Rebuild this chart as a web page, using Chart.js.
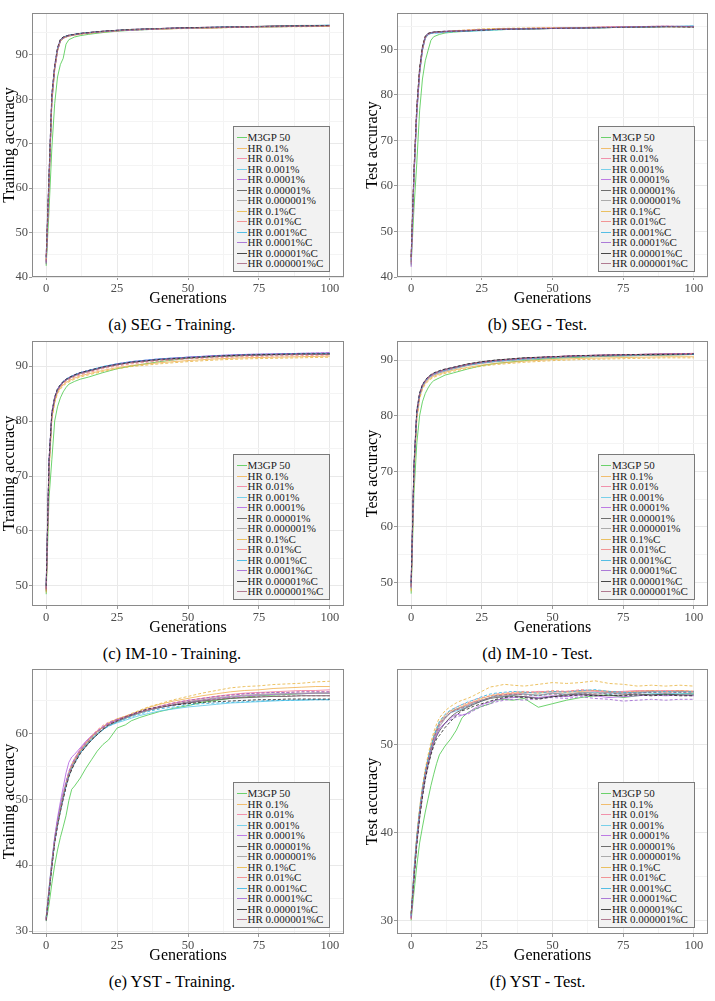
<!DOCTYPE html>
<html>
<head>
<meta charset="utf-8">
<script src="https://cdn.jsdelivr.net/npm/chart.js@4"></script>
<style>
  body { margin: 0; background: #fff; width: 715px; height: 1001px; position: relative; overflow: hidden; font-family: "Liberation Serif", serif; }
  canvas { position: absolute; }
  .cap { position: absolute; font-size: 16.5px; white-space: nowrap; transform: translate(-50%, -50%); color: #000; }
  .leg { position: absolute; width: 95px; height: 144px; background: #f2f2f2; border: 1px solid #7a7a7a; }
  .row { position: absolute; left: 0; height: 10.5px; line-height: 10.5px; font-size: 11px; white-space: nowrap; color: #1a1a1a; }
  .key { position: absolute; left: 2.5px; width: 10px; height: 1px; top: 5px; }
  .lab { position: absolute; left: 13.5px; top: 0; }
</style>
</head>
<body>
<script>
// -------------------- DATA --------------------

const seriesNames = ["M3GP 50", "HR 0.1%", "HR 0.01%", "HR 0.001%", "HR 0.0001%", "HR 0.00001%", "HR 0.000001%",
  "HR 0.1%C", "HR 0.01%C", "HR 0.001%C", "HR 0.0001%C", "HR 0.00001%C", "HR 0.000001%C"];

const gensFast = [0, 1, 2, 3, 4, 5, 6, 7, 8, 10, 12, 15, 20, 25, 30, 40, 50, 60, 70, 80, 90, 100];
const gensYst = [0, 1, 2, 3, 4, 5, 6, 7, 8, 9, 10, 12, 14, 16, 18, 20, 22, 25, 28, 30, 33, 36, 40, 45, 50, 55, 60, 65, 70, 75, 80, 85, 90, 95, 100];

const xTicks = [0, 25, 50, 75, 100];
const segTicks = [40, 50, 60, 70, 80, 90];
const imTicks = [50, 60, 70, 80, 90];
const ystTrainTicks = [30, 40, 50, 60];
const ystTestTicks = [30, 40, 50];

// (a) SEG - Training
const segTrain = [
  [42.5, 55.0, 69.0, 79.0, 85.0, 87.8, 89.2, 92.4, 93.4, 94.0, 94.3, 94.6, 95.0, 95.3, 95.5, 95.8, 96.0, 96.1, 96.2, 96.3, 96.4, 96.5],
  [43.8, 61.0, 79.5, 86.5, 90.8, 93.1, 93.7, 94.0, 94.2, 94.5, 94.7, 94.9, 95.2, 95.4, 95.6, 95.8, 96.0, 96.1, 96.2, 96.3, 96.4, 96.4],
  [44.2, 62.5, 80.5, 87.2, 91.3, 93.3, 93.8, 94.1, 94.3, 94.6, 94.8, 95.0, 95.2, 95.5, 95.6, 95.9, 96.1, 96.2, 96.3, 96.4, 96.5, 96.6],
  [43.5, 61.8, 80.0, 87.0, 91.0, 93.2, 93.8, 94.1, 94.3, 94.5, 94.7, 94.9, 95.2, 95.4, 95.6, 95.9, 96.0, 96.2, 96.3, 96.4, 96.5, 96.7],
  [44.5, 63.0, 81.0, 87.5, 91.5, 93.4, 93.9, 94.2, 94.4, 94.6, 94.8, 95.0, 95.3, 95.5, 95.7, 95.9, 96.1, 96.2, 96.3, 96.4, 96.5, 96.6],
  [43.0, 61.5, 80.2, 87.3, 91.2, 93.3, 93.9, 94.2, 94.4, 94.6, 94.8, 95.0, 95.3, 95.5, 95.7, 95.9, 96.1, 96.2, 96.3, 96.5, 96.6, 96.6],
  [42.8, 60.5, 79.0, 86.8, 90.9, 93.0, 93.7, 94.0, 94.2, 94.5, 94.7, 94.9, 95.2, 95.4, 95.6, 95.8, 96.0, 96.1, 96.2, 96.3, 96.4, 96.5],
  [44.0, 62.0, 79.8, 86.9, 91.0, 93.1, 93.6, 94.0, 94.2, 94.4, 94.6, 94.8, 95.1, 95.4, 95.6, 95.8, 95.9, 96.0, 96.2, 96.3, 96.3, 96.4],
  [43.6, 61.2, 80.3, 87.1, 91.1, 93.2, 93.8, 94.1, 94.3, 94.5, 94.7, 94.9, 95.2, 95.4, 95.6, 95.8, 96.0, 96.1, 96.3, 96.4, 96.5, 96.5],
  [44.3, 62.8, 80.8, 87.4, 91.4, 93.3, 93.9, 94.2, 94.4, 94.6, 94.8, 95.0, 95.2, 95.5, 95.6, 95.9, 96.0, 96.2, 96.3, 96.4, 96.5, 96.6],
  [43.2, 61.0, 79.6, 86.7, 90.9, 93.1, 93.7, 94.0, 94.3, 94.5, 94.7, 94.9, 95.2, 95.4, 95.5, 95.8, 96.0, 96.1, 96.2, 96.3, 96.4, 96.5],
  [44.6, 63.2, 81.2, 87.6, 91.6, 93.5, 94.0, 94.2, 94.4, 94.6, 94.8, 95.0, 95.3, 95.5, 95.7, 95.9, 96.1, 96.2, 96.3, 96.4, 96.5, 96.6],
  [43.4, 61.6, 80.1, 87.0, 91.1, 93.2, 93.8, 94.1, 94.3, 94.5, 94.7, 94.9, 95.2, 95.4, 95.6, 95.9, 96.0, 96.1, 96.3, 96.4, 96.4, 96.5],
];

// (b) SEG - Test
const segTest = [
  [42.5, 55.0, 65.0, 76.5, 83.5, 87.5, 89.8, 92.0, 92.8, 93.3, 93.6, 93.8, 94.0, 94.2, 94.3, 94.5, 94.6, 94.7, 94.8, 94.9, 95.0, 95.0],
  [43.5, 62.5, 76.0, 85.0, 90.0, 92.5, 93.3, 93.6, 93.7, 93.8, 93.9, 94.0, 94.2, 94.4, 94.5, 94.6, 94.7, 94.8, 94.9, 95.0, 95.1, 95.0],
  [44.0, 63.5, 77.0, 85.5, 90.3, 92.7, 93.4, 93.6, 93.7, 93.8, 93.9, 94.0, 94.1, 94.3, 94.4, 94.6, 94.6, 94.7, 94.9, 95.0, 95.0, 95.1],
  [43.2, 62.0, 75.5, 84.5, 89.7, 92.4, 93.2, 93.5, 93.6, 93.6, 93.8, 93.9, 94.0, 94.1, 94.3, 94.5, 94.6, 94.7, 94.8, 94.9, 95.0, 95.2],
  [42.2, 61.5, 76.5, 85.2, 90.2, 92.8, 93.5, 93.7, 93.8, 93.9, 94.0, 94.1, 94.2, 94.3, 94.4, 94.6, 94.7, 94.8, 94.9, 95.0, 95.1, 95.0],
  [44.5, 63.0, 77.2, 85.8, 90.5, 92.9, 93.5, 93.7, 93.8, 93.9, 93.9, 94.0, 94.1, 94.3, 94.4, 94.5, 94.6, 94.7, 94.8, 94.9, 95.0, 95.0],
  [43.8, 62.2, 76.2, 85.0, 90.0, 92.6, 93.3, 93.6, 93.7, 93.8, 93.9, 94.0, 94.1, 94.3, 94.4, 94.5, 94.6, 94.7, 94.8, 94.9, 95.0, 94.9],
  [43.0, 61.8, 75.8, 84.8, 89.9, 92.5, 93.3, 93.6, 93.7, 93.8, 93.9, 94.1, 94.3, 94.5, 94.6, 94.7, 94.8, 94.8, 94.9, 95.0, 95.0, 95.0],
  [44.2, 63.2, 76.8, 85.4, 90.4, 92.8, 93.4, 93.6, 93.7, 93.8, 93.9, 94.0, 94.2, 94.3, 94.4, 94.6, 94.7, 94.8, 94.9, 95.0, 95.0, 95.0],
  [43.6, 62.6, 76.4, 85.1, 90.1, 92.6, 93.3, 93.5, 93.6, 93.7, 93.8, 93.9, 94.0, 94.2, 94.3, 94.5, 94.6, 94.7, 94.8, 94.9, 95.0, 95.1],
  [42.8, 61.9, 76.0, 84.9, 89.9, 92.5, 93.4, 93.6, 93.7, 93.8, 93.9, 94.0, 94.1, 94.3, 94.4, 94.5, 94.6, 94.7, 94.9, 95.0, 95.1, 95.0],
  [44.4, 63.4, 77.4, 85.9, 90.6, 92.9, 93.5, 93.7, 93.8, 93.9, 94.0, 94.0, 94.1, 94.2, 94.4, 94.5, 94.6, 94.7, 94.8, 94.9, 95.0, 94.9],
  [43.3, 62.3, 76.3, 85.0, 90.0, 92.6, 93.3, 93.6, 93.7, 93.8, 93.9, 94.0, 94.1, 94.3, 94.4, 94.5, 94.6, 94.7, 94.8, 94.9, 95.0, 95.0],
];

// (c) IM-10 - Training
const imTrain = [
  [48.5, 66.0, 73.0, 80.0, 82.6, 84.2, 85.3, 86.1, 86.7, 87.2, 87.6, 88.0, 88.8, 89.5, 90.0, 90.8, 91.4, 91.7, 91.9, 92.1, 92.2, 92.3],
  [49.2, 71.0, 80.5, 83.5, 85.2, 86.0, 86.6, 87.0, 87.3, 87.8, 88.2, 88.6, 89.2, 89.7, 90.1, 90.6, 91.0, 91.3, 91.5, 91.6, 91.7, 91.8],
  [49.8, 72.5, 81.2, 84.2, 85.7, 86.5, 87.1, 87.5, 87.8, 88.3, 88.7, 89.1, 89.8, 90.3, 90.7, 91.2, 91.6, 91.8, 92.0, 92.1, 92.2, 92.2],
  [50.0, 72.0, 81.0, 84.0, 85.6, 86.4, 87.1, 87.5, 87.9, 88.4, 88.8, 89.2, 89.9, 90.4, 90.8, 91.3, 91.6, 91.8, 92.0, 92.1, 92.2, 92.3],
  [49.5, 72.8, 81.5, 84.3, 85.8, 86.6, 87.2, 87.6, 87.9, 88.4, 88.8, 89.2, 89.8, 90.4, 90.8, 91.3, 91.6, 91.9, 92.1, 92.2, 92.3, 92.4],
  [49.0, 72.2, 81.3, 84.1, 85.6, 86.4, 87.0, 87.4, 87.8, 88.3, 88.7, 89.1, 89.8, 90.3, 90.7, 91.2, 91.5, 91.8, 92.0, 92.1, 92.2, 92.2],
  [49.6, 71.8, 81.0, 84.0, 85.5, 86.3, 87.0, 87.4, 87.7, 88.2, 88.6, 89.0, 89.7, 90.2, 90.6, 91.1, 91.5, 91.7, 91.9, 92.0, 92.1, 92.2],
  [48.8, 70.5, 80.2, 83.3, 85.0, 85.8, 86.4, 86.8, 87.1, 87.6, 88.0, 88.4, 89.0, 89.5, 89.9, 90.4, 90.8, 91.1, 91.3, 91.4, 91.5, 91.6],
  [49.3, 71.5, 80.8, 83.8, 85.4, 86.2, 86.8, 87.2, 87.5, 88.0, 88.4, 88.8, 89.5, 90.0, 90.4, 90.9, 91.3, 91.5, 91.7, 91.8, 91.9, 92.0],
  [50.2, 72.6, 81.4, 84.3, 85.8, 86.6, 87.2, 87.6, 87.9, 88.4, 88.8, 89.2, 89.9, 90.4, 90.8, 91.3, 91.6, 91.9, 92.1, 92.2, 92.3, 92.3],
  [49.7, 72.4, 81.3, 84.2, 85.7, 86.5, 87.1, 87.5, 87.8, 88.3, 88.7, 89.1, 89.8, 90.3, 90.7, 91.2, 91.6, 91.9, 92.1, 92.2, 92.3, 92.4],
  [50.0, 73.0, 81.6, 84.4, 85.9, 86.6, 87.2, 87.6, 87.9, 88.4, 88.8, 89.2, 89.8, 90.3, 90.7, 91.2, 91.5, 91.8, 92.0, 92.1, 92.2, 92.2],
  [49.4, 72.0, 81.1, 84.1, 85.6, 86.4, 87.0, 87.4, 87.7, 88.2, 88.6, 89.0, 89.7, 90.2, 90.6, 91.1, 91.4, 91.7, 91.9, 92.0, 92.1, 92.1],
];

// (d) IM-10 - Test
const imTest = [
  [48.0, 66.0, 75.0, 80.0, 82.5, 84.0, 85.0, 85.8, 86.3, 86.8, 87.3, 87.7, 88.4, 89.0, 89.4, 89.9, 90.3, 90.5, 90.7, 90.8, 90.9, 91.0],
  [48.6, 69.5, 79.5, 83.2, 85.0, 85.8, 86.4, 86.8, 87.1, 87.5, 87.8, 88.2, 88.7, 89.1, 89.4, 89.8, 90.1, 90.3, 90.4, 90.5, 90.6, 90.6],
  [49.5, 70.5, 80.5, 83.8, 85.4, 86.2, 86.8, 87.2, 87.5, 87.9, 88.2, 88.6, 89.2, 89.6, 89.9, 90.3, 90.6, 90.8, 90.9, 91.0, 91.1, 91.2],
  [49.0, 70.2, 80.2, 83.6, 85.3, 86.1, 86.7, 87.1, 87.4, 87.8, 88.1, 88.5, 89.1, 89.5, 89.8, 90.2, 90.5, 90.7, 90.8, 90.9, 91.0, 91.0],
  [50.0, 71.0, 80.8, 84.0, 85.5, 86.3, 86.9, 87.3, 87.6, 88.0, 88.3, 88.7, 89.2, 89.6, 89.9, 90.3, 90.6, 90.8, 90.9, 91.0, 91.1, 91.1],
  [49.2, 70.8, 80.6, 83.9, 85.5, 86.3, 86.9, 87.3, 87.6, 88.0, 88.3, 88.7, 89.3, 89.7, 90.0, 90.4, 90.6, 90.8, 90.9, 91.0, 91.1, 91.1],
  [48.8, 70.0, 80.0, 83.5, 85.2, 86.0, 86.6, 87.0, 87.3, 87.7, 88.0, 88.4, 89.0, 89.4, 89.7, 90.1, 90.4, 90.6, 90.7, 90.8, 90.9, 91.0],
  [48.4, 69.2, 79.2, 83.0, 84.8, 85.6, 86.2, 86.6, 86.9, 87.3, 87.6, 88.0, 88.5, 88.9, 89.2, 89.6, 89.9, 90.1, 90.2, 90.3, 90.4, 90.4],
  [49.3, 70.3, 80.3, 83.7, 85.3, 86.1, 86.7, 87.1, 87.4, 87.9, 88.2, 88.6, 89.2, 89.6, 89.9, 90.3, 90.6, 90.8, 90.9, 91.0, 91.1, 91.2],
  [49.8, 70.6, 80.5, 83.8, 85.4, 86.2, 86.8, 87.2, 87.5, 87.9, 88.2, 88.6, 89.1, 89.5, 89.8, 90.2, 90.5, 90.7, 90.8, 90.9, 91.0, 91.0],
  [49.1, 70.4, 80.4, 83.7, 85.4, 86.2, 86.8, 87.2, 87.5, 87.9, 88.2, 88.6, 89.2, 89.6, 89.9, 90.3, 90.6, 90.8, 90.9, 91.0, 91.1, 91.2],
  [50.0, 71.2, 81.0, 84.1, 85.6, 86.4, 87.0, 87.4, 87.7, 88.1, 88.4, 88.7, 89.3, 89.7, 90.0, 90.4, 90.6, 90.8, 90.9, 91.0, 91.0, 91.1],
  [49.4, 70.7, 80.6, 83.9, 85.5, 86.3, 86.9, 87.3, 87.6, 88.0, 88.3, 88.6, 89.2, 89.6, 89.9, 90.3, 90.5, 90.7, 90.8, 90.9, 91.0, 91.0],
];

// (e) YST - Training
const ystTrain = [
  [31.5, 34.0, 37.2, 40.0, 42.3, 44.2, 45.8, 47.5, 49.8, 51.5, 52.0, 53.2, 54.7, 56.0, 57.3, 58.3, 59.0, 60.8, 61.3, 61.9, 62.4, 62.8, 63.3, 63.8, 64.2, 64.7, 65.0, 65.3, 65.5, 65.7, 65.8, 65.9, 66.0, 66.1, 66.1],
  [32.0, 36.0, 40.0, 43.8, 46.3, 48.4, 50.4, 52.3, 53.8, 55.0, 55.8, 57.3, 58.4, 59.4, 60.2, 60.9, 61.5, 62.1, 62.6, 62.9, 63.4, 63.9, 64.4, 64.9, 65.3, 65.7, 66.0, 66.3, 66.5, 66.6, 66.8, 66.9, 67.0, 67.1, 67.1],
  [31.8, 36.3, 40.4, 44.0, 46.6, 48.8, 50.8, 52.6, 54.2, 55.3, 56.2, 57.6, 58.7, 59.6, 60.4, 61.0, 61.5, 62.0, 62.4, 62.7, 63.2, 63.6, 64.1, 64.6, 65.0, 65.3, 65.6, 65.9, 66.1, 66.2, 66.3, 66.4, 66.5, 66.5, 66.6],
  [32.1, 36.5, 40.6, 44.2, 46.8, 48.9, 50.7, 52.4, 53.9, 55.0, 55.8, 57.2, 58.3, 59.2, 60.0, 60.6, 61.1, 61.6, 62.0, 62.3, 62.7, 63.0, 63.4, 63.7, 64.0, 64.2, 64.4, 64.6, 64.7, 64.8, 64.9, 65.0, 65.0, 65.1, 65.1],
  [31.6, 36.2, 40.5, 44.3, 47.2, 49.6, 51.8, 54.0, 55.6, 56.4, 56.8, 57.8, 58.8, 59.6, 60.3, 60.9, 61.4, 62.0, 62.5, 62.8, 63.2, 63.5, 63.9, 64.3, 64.7, 65.0, 65.3, 65.5, 65.7, 65.8, 65.9, 66.0, 66.0, 66.1, 66.1],
  [31.9, 35.8, 39.8, 43.5, 46.0, 48.2, 50.2, 52.0, 53.5, 54.6, 55.5, 57.0, 58.0, 59.0, 59.8, 60.6, 61.2, 61.8, 62.3, 62.7, 63.1, 63.5, 63.9, 64.3, 64.6, 64.9, 65.1, 65.3, 65.4, 65.5, 65.6, 65.6, 65.7, 65.7, 65.7],
  [31.7, 36.0, 40.2, 43.7, 46.2, 48.5, 50.5, 52.2, 53.7, 54.8, 55.6, 57.1, 58.2, 59.1, 59.9, 60.6, 61.2, 61.8, 62.3, 62.6, 63.1, 63.5, 63.9, 64.4, 64.8, 65.1, 65.4, 65.6, 65.8, 65.9, 66.0, 66.0, 66.1, 66.1, 66.1],
  [32.2, 36.4, 40.3, 43.9, 46.4, 48.6, 50.6, 52.4, 53.9, 55.1, 56.0, 57.4, 58.5, 59.5, 60.3, 61.0, 61.6, 62.2, 62.6, 63.0, 63.5, 64.0, 64.5, 65.1, 65.6, 66.1, 66.5, 66.9, 67.1, 67.2, 67.4, 67.5, 67.6, 67.8, 67.9],
  [31.9, 36.1, 40.1, 43.8, 46.5, 48.7, 50.6, 52.3, 53.8, 54.9, 55.9, 57.4, 58.6, 59.6, 60.5, 61.2, 61.7, 62.2, 62.6, 62.9, 63.3, 63.7, 64.1, 64.6, 65.0, 65.3, 65.6, 65.8, 66.0, 66.1, 66.2, 66.2, 66.3, 66.3, 66.3],
  [32.0, 36.0, 40.0, 43.6, 46.1, 48.3, 50.3, 52.1, 53.6, 54.7, 55.5, 57.0, 58.1, 59.0, 59.8, 60.5, 61.1, 61.7, 62.2, 62.5, 62.9, 63.3, 63.7, 64.0, 64.3, 64.5, 64.6, 64.7, 64.8, 64.9, 65.0, 65.0, 65.1, 65.1, 65.1],
  [31.8, 36.2, 40.3, 43.9, 46.6, 48.9, 50.9, 52.7, 54.2, 55.3, 56.1, 57.5, 58.6, 59.5, 60.3, 61.0, 61.6, 62.1, 62.5, 62.9, 63.3, 63.7, 64.1, 64.6, 65.0, 65.3, 65.6, 65.8, 66.0, 66.1, 66.2, 66.2, 66.3, 66.3, 66.3],
  [31.6, 35.7, 39.7, 43.4, 46.0, 48.1, 50.0, 51.8, 53.4, 54.5, 55.4, 56.9, 58.0, 59.0, 59.8, 60.6, 61.3, 61.9, 62.5, 62.8, 63.3, 63.7, 64.0, 64.3, 64.5, 64.7, 64.8, 64.9, 65.0, 65.1, 65.1, 65.2, 65.2, 65.2, 65.2],
  [31.7, 35.9, 39.9, 43.6, 46.2, 48.4, 50.4, 52.2, 53.7, 54.8, 55.7, 57.2, 58.3, 59.3, 60.1, 60.8, 61.4, 62.0, 62.5, 62.8, 63.2, 63.6, 64.0, 64.4, 64.8, 65.0, 65.2, 65.4, 65.5, 65.6, 65.6, 65.7, 65.7, 65.7, 65.7],
];

// (f) YST - Test
const ystTest = [
  [30.0, 33.2, 36.2, 38.8, 40.6, 42.3, 43.8, 45.3, 46.6, 47.8, 48.8, 49.8, 50.6, 51.6, 53.0, 53.6, 53.9, 54.3, 54.6, 55.0, 55.1, 55.0, 55.2, 54.2, 54.6, 55.0, 55.3, 55.5, 55.6, 55.3, 55.5, 55.7, 55.6, 55.7, 55.8],
  [30.8, 35.5, 39.5, 42.5, 45.0, 47.0, 48.5, 49.8, 51.0, 51.8, 52.5, 53.3, 53.8, 54.0, 54.3, 54.6, 54.8, 55.2, 55.5, 55.6, 55.7, 55.8, 55.9, 55.8, 56.0, 55.9, 56.0, 56.1, 56.0, 55.9, 56.0, 56.1, 56.0, 56.1, 56.0],
  [30.2, 35.0, 39.2, 42.3, 44.8, 46.7, 48.2, 49.5, 50.6, 51.5, 52.3, 53.0, 53.6, 53.9, 54.2, 54.5, 54.8, 55.0, 55.3, 55.5, 55.6, 55.7, 55.8, 56.0, 55.9, 56.0, 56.1, 56.0, 55.9, 56.0, 56.1, 56.0, 56.1, 56.0, 56.0],
  [30.5, 35.8, 39.6, 42.6, 45.0, 46.8, 48.3, 49.6, 50.8, 51.6, 52.4, 53.1, 53.6, 53.8, 54.0, 54.3, 54.6, 54.9, 55.3, 55.5, 55.4, 55.6, 55.7, 55.5, 55.8, 55.6, 55.8, 55.9, 55.7, 55.8, 55.9, 55.8, 55.7, 55.8, 55.7],
  [30.3, 35.2, 39.0, 42.0, 44.5, 46.4, 47.9, 49.2, 50.3, 51.1, 51.8, 52.4, 53.0, 53.4, 53.3, 53.5, 54.0, 54.5, 54.8, 55.0, 55.2, 55.3, 55.4, 55.3, 55.5, 55.4, 55.6, 55.5, 55.3, 55.4, 55.5, 55.6, 55.5, 55.6, 55.5],
  [30.6, 34.8, 38.8, 41.8, 44.2, 46.2, 47.7, 49.0, 50.1, 50.9, 51.5, 52.4, 53.1, 53.6, 53.9, 54.2, 54.5, 54.9, 55.2, 55.3, 55.4, 55.5, 55.4, 55.2, 55.4, 55.6, 55.7, 55.6, 55.5, 55.6, 55.7, 55.6, 55.7, 55.6, 55.6],
  [30.4, 35.1, 39.1, 42.2, 44.6, 46.5, 48.0, 49.3, 50.5, 51.3, 52.0, 52.9, 53.6, 54.0, 54.2, 54.4, 54.7, 55.0, 55.3, 55.4, 55.5, 55.6, 55.7, 55.6, 55.8, 55.7, 55.9, 55.8, 55.9, 55.8, 55.9, 56.0, 55.9, 56.0, 55.9],
  [30.7, 35.6, 39.7, 42.8, 45.3, 47.2, 48.8, 50.2, 51.4, 52.3, 53.0, 53.8, 54.3, 54.7, 55.0, 55.2, 55.5, 56.0, 56.5, 56.6, 56.8, 56.7, 56.6, 56.8, 57.0, 56.9, 57.0, 57.2, 56.9, 56.8, 56.6, 56.7, 56.6, 56.7, 56.6],
  [30.1, 34.9, 39.0, 42.1, 44.7, 46.6, 48.1, 49.4, 50.7, 51.6, 52.4, 53.2, 53.8, 54.2, 54.5, 54.7, 55.0, 55.3, 55.5, 55.7, 55.8, 55.9, 56.0, 55.9, 56.1, 56.0, 56.2, 56.1, 56.0, 55.9, 56.0, 56.1, 56.0, 56.1, 56.0],
  [30.5, 35.4, 39.4, 42.4, 44.9, 46.9, 48.4, 49.7, 50.9, 51.8, 52.6, 53.4, 53.9, 54.2, 54.5, 54.8, 55.0, 55.4, 55.7, 55.8, 55.9, 56.0, 55.9, 55.8, 56.0, 55.9, 56.1, 56.2, 56.0, 55.9, 55.8, 55.9, 56.0, 55.9, 56.0],
  [30.3, 35.0, 38.9, 41.9, 44.4, 46.3, 47.8, 49.1, 50.2, 51.0, 51.7, 52.4, 52.8, 53.1, 53.3, 53.4, 53.8, 54.3, 54.6, 54.8, 55.0, 55.1, 55.0, 55.2, 55.3, 55.2, 55.4, 55.2, 55.1, 54.9, 55.0, 55.1, 55.0, 55.1, 55.1],
  [30.8, 34.6, 38.6, 41.6, 44.0, 46.0, 47.5, 48.8, 49.8, 50.6, 51.0, 51.9, 52.6, 53.3, 53.8, 54.0, 54.3, 54.6, 54.9, 55.1, 55.3, 55.4, 55.3, 55.1, 55.4, 55.5, 55.6, 55.5, 55.6, 55.5, 55.6, 55.5, 55.6, 55.5, 55.5],
  [30.2, 35.3, 39.3, 42.3, 44.8, 46.7, 48.2, 49.5, 50.7, 51.5, 52.2, 53.0, 53.6, 53.9, 54.1, 54.3, 54.6, 55.0, 55.3, 55.5, 55.6, 55.7, 55.6, 55.5, 55.7, 55.6, 55.8, 55.7, 55.8, 55.7, 55.8, 55.9, 55.8, 55.9, 55.8],
];

// -------------------- STYLE --------------------

const lineColors = ["#4cc94cd0", "#f0b050d0", "#f07a9ad0", "#5cc8e8d0", "#b060e0d0", "#505050d0", "#9a9a9ad0",
  "#e8b440d0", "#f08080d0", "#30b0e0d0", "#9b5fd0d0", "#202020d0", "#a0607ad0"];
const FONT = "'Liberation Serif', serif";

// one entry per subplot: what it shows and which cell of the grid it sits in
const panels = [
  { series: segTrain, gens: gensFast, yTicks: segTicks, yMin: 40, yMax: 99.4, yTitle: "Training accuracy", caption: "(a) SEG - Training.", col: 0, row: 0 },
  { series: segTest, gens: gensFast, yTicks: segTicks, yMin: 40, yMax: 98.0, yTitle: "Test accuracy", caption: "(b) SEG - Test.", col: 1, row: 0 },
  { series: imTrain, gens: gensFast, yTicks: imTicks, yMin: 46.36, yMax: 94.55, yTitle: "Training accuracy", caption: "(c) IM-10 - Training.", col: 0, row: 1 },
  { series: imTest, gens: gensFast, yTicks: imTicks, yMin: 45.78, yMax: 93.43, yTitle: "Test accuracy", caption: "(d) IM-10 - Test.", col: 1, row: 1 },
  { series: ystTrain, gens: gensYst, yTicks: ystTrainTicks, yMin: 29.55, yMax: 69.76, yTitle: "Training accuracy", caption: "(e) YST - Training.", col: 0, row: 2 },
  { series: ystTest, gens: gensYst, yTicks: ystTestTicks, yMin: 28.46, yMax: 58.54, yTitle: "Test accuracy", caption: "(f) YST - Test.", col: 1, row: 2 },
];

const colLeft = [0, 363];        // canvas left
const yAxisWidth = [32, 34];
const padRight = [8, 7];
const rowTop = [0, 328, 656];    // canvas top
const rowHeight = [310, 311, 311];
const captionX = [172, 537.5];
const captionY = [325, 654, 982];
const legendX = [233, 597.5];
const legendY = [126, 454, 782];

// major ticks plus ggplot-like minor breaks halfway between them
function ticksWithMinor(major, min, max) {
  const step = major[1] - major[0];
  const out = [];
  major.forEach((m, i) => {
    if (i === 0 && m - step / 2 >= min) out.push({ value: m - step / 2, minor: true });
    out.push({ value: m, minor: false });
    if (m + step / 2 <= max) out.push({ value: m + step / 2, minor: true });
  });
  return out;
}

const isMinor = (c) => c.tick && c.tick.minor;

// panel border drawn over the lines
const boxPlugin = {
  id: "box",
  afterDraw(chart) {
    const { ctx, chartArea: a } = chart;
    ctx.save();
    ctx.strokeStyle = "#8a8a8a";
    ctx.lineWidth = 1;
    ctx.strokeRect(Math.round(a.left) + 0.5, Math.round(a.top) + 0.5, Math.round(a.right - a.left) - 1, Math.round(a.bottom - a.top) - 1);
    ctx.restore();
  },
};

function makePanel(p) {
  const cv = document.createElement("canvas");
  const h = rowHeight[p.row];
  cv.width = 352;
  cv.height = h;
  cv.style.left = colLeft[p.col] + "px";
  cv.style.top = rowTop[p.row] + "px";
  cv.style.width = "352px";
  cv.style.height = h + "px";
  document.body.appendChild(cv);

  const datasets = p.series.map((vals, i) => ({
    label: seriesNames[i],
    data: vals.map((v, k) => ({ x: p.gens[k], y: v })),
    borderColor: lineColors[i],
    borderWidth: 1,
    borderDash: i >= 7 ? [3, 2] : [], // the "C" runs are dashed
    pointRadius: 0,
    fill: false,
    tension: 0,
    order: 12 - i, // later series drawn on top, like ggplot
  }));

  const grid = {
    color: (c) => (isMinor(c) ? "#f4f4f4" : "#e9e9e9"),
    tickLength: 3,
    tickColor: (c) => (isMinor(c) ? "rgba(0,0,0,0)" : "#9a9a9a"),
  };
  const tickOpts = {
    autoSkip: false,
    maxRotation: 0,
    padding: 1,
    color: "#4d4d4d",
    font: { family: FONT, size: 12.5 },
    callback: (v, i, t) => (t[i].minor ? "" : String(v)),
  };

  new Chart(cv, {
    type: "line",
    data: { datasets },
    options: {
      responsive: false,
      animation: false,
      devicePixelRatio: 1,
      layout: { padding: { left: 0, top: 13, right: padRight[p.col], bottom: 0 } },
      plugins: { legend: { display: false }, tooltip: { enabled: false } },
      scales: {
        x: {
          type: "linear",
          min: -5,
          max: 105,
          afterBuildTicks: (ax) => { ax.ticks = ticksWithMinor(xTicks, -5, 105); },
          afterFit: (ax) => { ax.height = 33; },
          ticks: tickOpts,
          grid: grid,
          border: { display: false },
          title: { display: true, text: "Generations", color: "#000", font: { family: FONT, size: 16 }, padding: { top: 0, bottom: 2 } },
        },
        y: {
          min: p.yMin,
          max: p.yMax,
          afterBuildTicks: (ax) => { ax.ticks = ticksWithMinor(p.yTicks, p.yMin, p.yMax); },
          afterFit: (ax) => { ax.width = yAxisWidth[p.col]; },
          ticks: tickOpts,
          grid: grid,
          border: { display: false },
          title: { display: true, text: p.yTitle, color: "#000", font: { family: FONT, size: 16 }, padding: { top: 0, bottom: 0 } },
        },
      },
    },
    plugins: [boxPlugin],
  });

  // caption under the subplot
  const cap = document.createElement("div");
  cap.className = "cap";
  cap.style.left = captionX[p.col] + "px";
  cap.style.top = captionY[p.row] + "px";
  cap.textContent = p.caption;
  document.body.appendChild(cap);

  // legend box inside the panel
  const leg = document.createElement("div");
  leg.className = "leg";
  leg.style.left = legendX[p.col] + "px";
  leg.style.top = legendY[p.row] + "px";
  seriesNames.forEach((name, i) => {
    const r = document.createElement("div");
    r.className = "row";
    r.style.top = (5 + i * 10.5) + "px";
    r.innerHTML = `<span class="key" style="background:${lineColors[i]}"></span><span class="lab">${name}</span>`;
    leg.appendChild(r);
  });
  document.body.appendChild(leg);
}

panels.forEach(makePanel);
</script>
</body>
</html>
